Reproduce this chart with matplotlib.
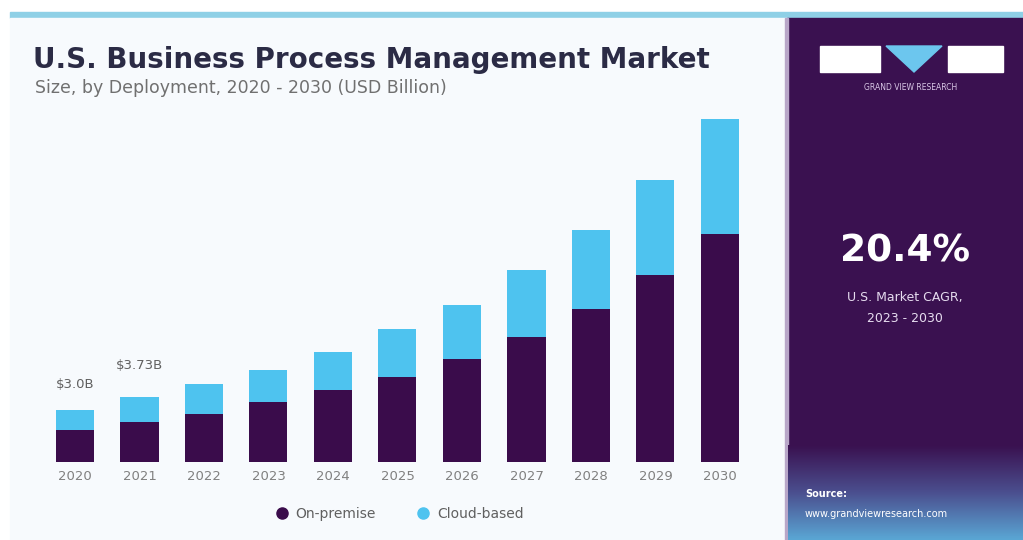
import matplotlib
matplotlib.use("Agg")
import matplotlib.pyplot as plt
import numpy as np
from matplotlib.patches import Rectangle, Polygon
from matplotlib.lines import Line2D
from matplotlib.colors import LinearSegmentedColormap

years = ["2020", "2021", "2022", "2023", "2024", "2025", "2026", "2027", "2028", "2029", "2030"]
on_premise = [1.85, 2.31, 2.77, 3.47, 4.16, 4.91, 5.95, 7.23, 8.84, 10.8, 13.2]
cloud = [1.15, 1.42, 1.73, 1.83, 2.19, 2.79, 3.15, 3.87, 4.56, 5.5, 6.6]
series_names = ["On-premise", "Cloud-based"]
bar_labels = ["$3.0B", "$3.73B"]
title = "U.S. Business Process Management Market"
subtitle = "Size, by Deployment, 2020 - 2030 (USD Billion)"
cagr = "20.4%"
cagr_label = ["U.S. Market CAGR,", "2023 - 2030"]

W, H = 1023, 540
fig = plt.figure(figsize=(W / 100, H / 100), dpi=100)
fig.patch.set_facecolor("white")

def fx(px):
    return px / W

def fy(py):
    return 1 - py / H

# background panels
bg = fig.add_axes([0, 0, 1, 1])
bg.axis("off")
bg.add_patch(Rectangle((10, 12), W - 10, 6, color="#8fd0e6", zorder=1))
bg.add_patch(Rectangle((10, 18), 777, H - 18, color="#f7fafd", zorder=1))
bg.add_patch(Rectangle((787, 18), W - 787, H - 18, color="#3a1150", zorder=1))
bg.add_patch(Rectangle((785, 18), 3, H - 18, color="#b8a6c8", zorder=2))
grad = np.linspace(0, 1, 100).reshape(-1, 1)
cmap = LinearSegmentedColormap.from_list("g", ["#3a1150", "#4b4f8f", "#5aa6d4"])
bg.imshow(grad, cmap=cmap, extent=(788, W, 540, 445), aspect="auto", zorder=2)
bg.set_xlim(0, W)
bg.set_ylim(H, 0)

# logo
bg.add_patch(Rectangle((820, 46), 60, 26, color="white", zorder=3))
bg.add_patch(Rectangle((948, 46), 55, 26, color="white", zorder=3))
bg.add_patch(Polygon([(886, 46), (942, 46), (914, 72)], closed=True, color="#6cc6ee", zorder=3))
bg.text(911, 88, "GRAND VIEW RESEARCH", color="#d9c8e6", fontsize=5.5, ha="center", va="center", zorder=4)
bg.text(905, 252, cagr, color="white", fontsize=27, fontweight="bold", ha="center", va="center", zorder=4)
bg.text(905, 298, cagr_label[0], color="#e6dcef", fontsize=9, ha="center", va="center", zorder=4)
bg.text(905, 318, cagr_label[1], color="#e6dcef", fontsize=9, ha="center", va="center", zorder=4)
bg.text(805, 494, "Source:", color="white", fontsize=7, fontweight="bold", ha="left", va="center", zorder=4)
bg.text(805, 514, "www.grandviewresearch.com", color="white", fontsize=7, ha="left", va="center", zorder=4)

# titles
bg.text(33, 60, title, color="#2b2b45", fontsize=20, fontweight="heavy", ha="left", va="center", zorder=4)
bg.text(35, 88, subtitle, color="#707070", fontsize=12.5, ha="left", va="center", zorder=4)

# chart axes
left_px, right_px, top_px, base_px = 55, 745, 100, 462
ax = fig.add_axes([fx(left_px), fy(base_px), fx(right_px - left_px), (base_px - top_px) / H])
ax.set_facecolor("none")
x = np.arange(len(years))
unit = (720 - 75) / 10
ax.set_xlim(-(75 - left_px) / unit, 10 + (right_px - 720) / unit)
ax.set_ylim(0, (base_px - top_px) / 17.3)
dark = "#3a0c4b"
light = "#4ec3ef"
width = 38 / unit
ax.bar(x, on_premise, width=width, color=dark, zorder=3)
ax.bar(x, cloud, width=width, bottom=on_premise, color=light, zorder=3)
for s in ax.spines.values():
    s.set_visible(False)
ax.set_yticks([])
ax.set_xticks(x)
ax.set_xticklabels(years, color="#808080", fontsize=9.5)
ax.tick_params(axis="x", length=0, pad=6)

totals = np.array(on_premise) + np.array(cloud)
for i, lab in enumerate(bar_labels):
    ax.annotate(lab, (x[i], totals[i]), xytext=(0, 14 + 4 * i), textcoords="offset points",
                ha="center", va="bottom", color="#606060", fontsize=9.5)

handles = [Line2D([], [], marker="o", linestyle="none", markersize=8, color=c) for c in (dark, light)]
leg = ax.legend(handles, series_names, loc="upper center", bbox_to_anchor=(0.5, -0.09), ncol=2, frameon=False,
                fontsize=10, handlelength=0.8, columnspacing=3, handletextpad=0.6)
for t in leg.get_texts():
    t.set_color("#606060")

fig.savefig("out.png", dpi=100)
